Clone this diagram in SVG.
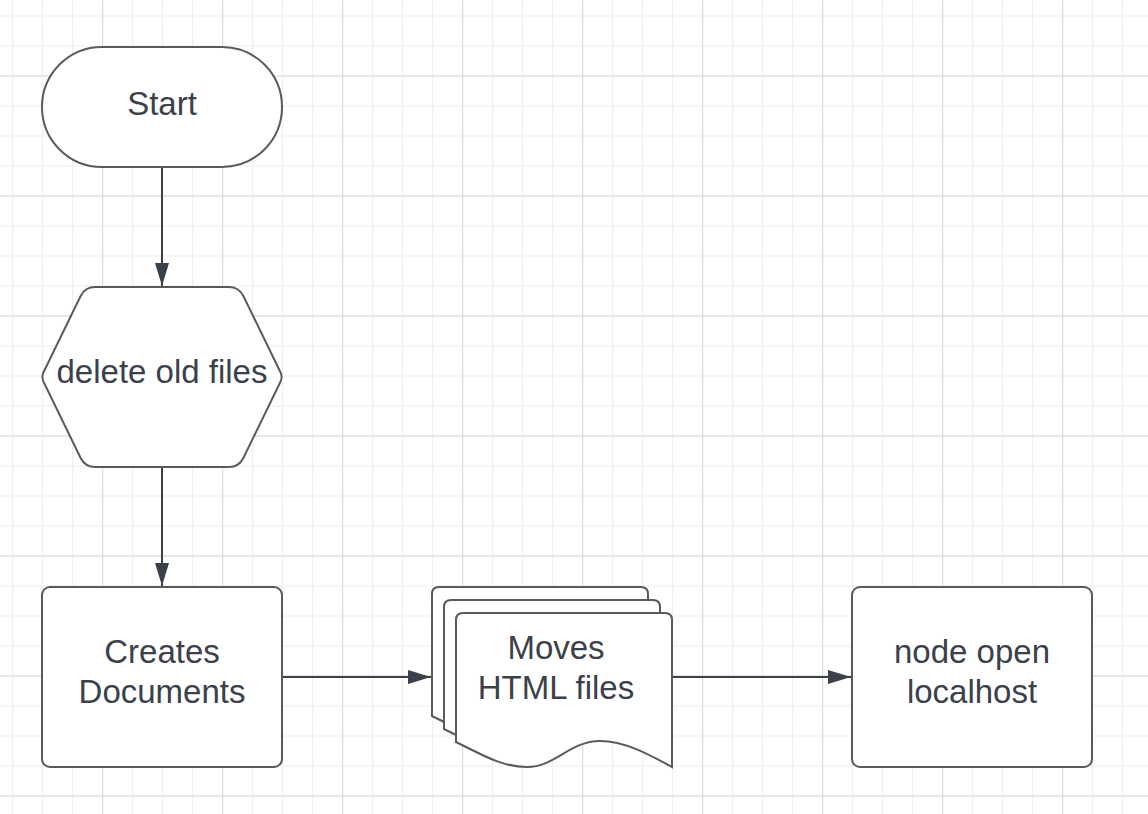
<svg xmlns="http://www.w3.org/2000/svg" width="1148" height="814" viewBox="0 0 1148 814">
<style>
.shape{fill:#ffffff;stroke:#5a5a5a;stroke-width:2}
.conn{fill:none;stroke:#3a414a;stroke-width:2}
.lbl{font-family:"Liberation Sans",Arial,sans-serif;font-size:33px;fill:#3a414a;text-anchor:middle}
</style>
<defs>
<pattern id="minor" width="30" height="30" patternUnits="userSpaceOnUse">
<path d="M12.7,0 V30 M0,16 H30" stroke="#ececec" stroke-width="1" fill="none"/>
</pattern>
<pattern id="major" width="120" height="120" patternUnits="userSpaceOnUse">
<path d="M102.7,0 V120 M0,76 H120" stroke="#d9d9d9" stroke-width="1" fill="none"/>
</pattern>
<marker id="arrow" markerUnits="userSpaceOnUse" markerWidth="24" markerHeight="16" viewBox="0 0 24 16" refX="23" refY="8" orient="auto">
<path d="M0,1 L23,8 L0,15 Z" fill="#3a414a"/>
</marker>
</defs>
<rect x="0" y="0" width="1148" height="814" fill="#ffffff"/>
<rect x="0" y="0" width="1148" height="814" fill="url(#minor)"/>
<rect x="0" y="0" width="1148" height="814" fill="url(#major)"/>

<g id="connectors">
<path class="conn" d="M162,167 V286" marker-end="url(#arrow)"/>
<path class="conn" d="M162,467 V586" marker-end="url(#arrow)"/>
<path class="conn" d="M282,677 H431" marker-end="url(#arrow)"/>
<path class="conn" d="M672,677 H851" marker-end="url(#arrow)"/>
</g>

<g id="start">
<rect class="shape" x="42" y="47" width="240" height="120" rx="60" ry="60"/>
<text class="lbl" x="162" y="115">Start</text>
</g>

<g id="delete-old-files">
<path class="shape" d="M94,287 H230 Q240,287 244.6,296 L282.4,372.5 Q284.5,377 282.4,381.5 L244.6,458 Q240,467 230,467 H94 Q84,467 79.4,458 L41.6,381.5 Q39.5,377 41.6,372.5 L79.4,296 Q84,287 94,287 Z" transform="translate(162,377) scale(0.985,1) translate(-162,-377)"/>
<text class="lbl" x="162" y="383">delete old files</text>
</g>

<g id="creates-documents">
<rect class="shape" x="42" y="587" width="240" height="180" rx="8" ry="8"/>
<text class="lbl" x="162" y="663">Creates</text>
<text class="lbl" x="162" y="703">Documents</text>
</g>

<g id="moves-html-files">
<path class="shape" d="M432,716 V594 Q432,587 439,587 H641 Q648,587 648,594 V741 C626,729 601,715 576,715 C546,715 531,741 503,741 C477,741 457,728 432,716 Z"/>
<path class="shape" d="M444,729 V607 Q444,600 451,600 H653 Q660,600 660,607 V754 C638,742 613,728 588,728 C558,728 543,754 515,754 C489,754 469,741 444,729 Z"/>
<path class="shape" d="M456,742 V620 Q456,613 463,613 H665 Q672,613 672,620 V767 C650,755 625,741 600,741 C570,741 555,767 527,767 C501,767 481,754 456,742 Z"/>
<text class="lbl" x="556" y="659">Moves</text>
<text class="lbl" x="556" y="699">HTML files</text>
</g>

<g id="node-open-localhost">
<rect class="shape" x="852" y="587" width="240" height="180" rx="8" ry="8"/>
<text class="lbl" x="972" y="663">node open</text>
<text class="lbl" x="972" y="703">localhost</text>
</g>
</svg>
